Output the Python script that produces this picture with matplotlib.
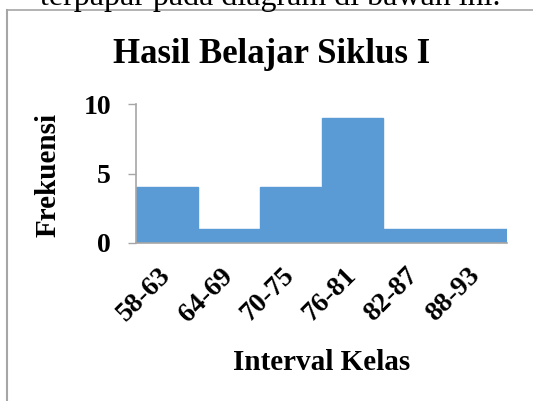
import matplotlib
matplotlib.use("Agg")
import matplotlib.pyplot as plt
from matplotlib.lines import Line2D

# data
kelas = ["58-63", "64-69", "70-75", "76-81", "82-87", "88-93"]
frekuensi = [4, 1, 4, 9, 1, 1]

plt.rcParams["font.family"] = ["Liberation Serif", "DejaVu Serif"]

W, H = 533, 401
fig = plt.figure(figsize=(W / 100, H / 100), dpi=100)

# cut-off line of body text above the chart (cut off in the reference too)
fig.text(270 / W, 1 - 4.5 / H, "terpapar pada diagram di bawah ini.",
         fontsize=23, ha="center", va="baseline", color="black")

# chart frame (only left and top edge visible)
frame_col = "#a6a6a6"
fig.add_artist(Line2D([7 / W, 7 / W], [0, 1 - 10 / H], transform=fig.transFigure,
                      color=frame_col, lw=1.5))
fig.add_artist(Line2D([7 / W, 1], [1 - 10 / H, 1 - 10 / H], transform=fig.transFigure,
                      color=frame_col, lw=1.2))

ax = fig.add_axes([136 / W, 1 - 243 / H, (507 - 136) / W, (243 - 104) / H])
x = list(range(len(kelas)))
ax.bar(x, frekuensi, width=1.0, align="edge", color="#5b9bd5",
       edgecolor="#5b9bd5", lw=1.0)

ax.set_xlim(0, len(kelas))
ax.set_ylim(0, 10)
ax.set_yticks([0, 5, 10])
ax.set_xticks([i + 0.5 for i in x])
ax.set_xticklabels(kelas, rotation=45, ha="right", va="center",
                   rotation_mode="anchor", fontsize=20, fontweight="bold")
for lab in ax.get_yticklabels():
    lab.set_fontsize(20)
    lab.set_fontweight("bold")

ax.tick_params(axis="x", length=0, pad=21)
ax.tick_params(axis="y", length=6, width=1, color="#a6a6a6", pad=12)

for s in ["top", "right"]:
    ax.spines[s].set_visible(False)
for s in ["left", "bottom"]:
    ax.spines[s].set_color("#a6a6a6")
    ax.spines[s].set_linewidth(1.2)
    ax.spines[s].set_zorder(3)

fig.text(272 / W, 1 - 63 / H, "Hasil Belajar Siklus I", fontsize=25,
         fontweight="bold", ha="center", va="baseline")
fig.text(48 / W, 1 - 174.5 / H, "Frekuensi", fontsize=21, fontweight="bold",
         rotation=90, ha="center", va="center")
fig.text(322 / W, 1 - 370 / H, "Interval Kelas", fontsize=21, fontweight="bold",
         ha="center", va="baseline")

fig.savefig("out.png", dpi=100)
